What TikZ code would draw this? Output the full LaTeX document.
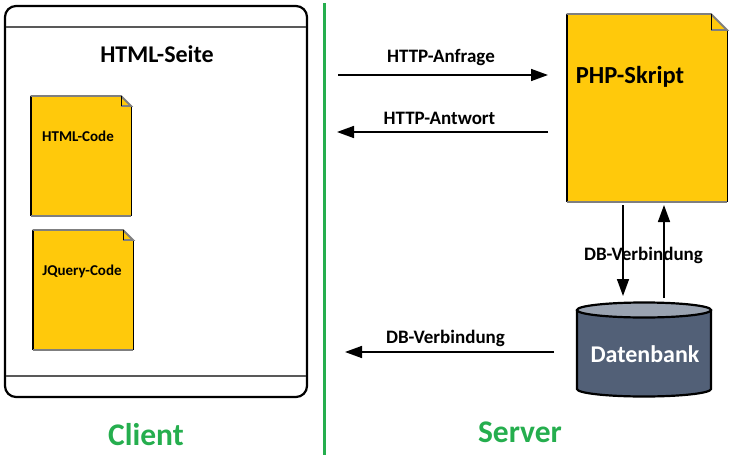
\documentclass[tikz,border=0pt]{standalone}
\usepackage{fontspec}
\setmainfont{Carlito}
\definecolor{docyellow}{HTML}{FFC90B}
\definecolor{edgegray}{HTML}{7F7F7F}
\definecolor{dbblue}{HTML}{526077}
\definecolor{dbtop}{HTML}{9AA3B1}
\definecolor{splitgreen}{HTML}{25AE4E}
\usetikzlibrary{arrows.meta}
\tikzset{
    msg/.style={line width=1.6pt,-{Triangle[length=17pt,width=12pt]}},
    msgtext/.style={font=\fontsize{19}{21}\bfseries\selectfont,inner sep=0pt},
    codetext/.style={font=\fontsize{15}{17}\bfseries\selectfont,inner sep=0pt},
    sidetext/.style={font=\fontsize{31.5}{34}\bfseries\selectfont,text=splitgreen,inner sep=0pt},
}
% left, top, right, bottom, fold
\newcommand{\docpage}[5]{
    \fill[docyellow] (#1,#2) -- (#3-#5,#2) -- (#3,#2+#5) -- (#3,#4) -- (#1,#4) -- cycle;
    \draw[line width=1.2pt] (#1,#2) -- (#1,#4);
    \draw[line width=0.8pt] (#3,#2+#5) -- (#3,#4);
    \draw[edgegray,line width=1.8pt] (#1-0.5,#2) -- (#3-#5,#2) -- (#3,#2+#5) -- (#3-#5,#2+#5);
    \draw[line width=0.8pt] (#3-#5,#2) -- (#3-#5,#2+#5);
    \draw[edgegray,line width=1.5pt] (#1-0.5,#4) -- (#3,#4);
}
\begin{document}
\begin{tikzpicture}[x=1pt,y=-1pt]
    \useasboundingbox (0,0) rectangle (734,455);
    % client
    \draw[line width=2.2pt,rounded corners=11pt] (5,6) rectangle (307,397);
    \draw[edgegray!70!black,line width=1.4pt] (6,27) -- (306,27);
    \draw[edgegray!70!black,line width=1.4pt] (6,376) -- (306,376);
    \node[font=\fontsize{24}{26}\bfseries\selectfont,inner sep=0pt] (seite) at (157,54) {HTML-Seite};
    \docpage{31}{96}{131}{216}{10}
    \node[codetext] (htmlcode) at (78,136) {HTML-Code};
    \docpage{33}{230}{133}{350}{10}
    \node[codetext] (jquerycode) at (82,271) {JQuery-Code};
    \node[sidetext] (client) at (146,435) {Client};
    % divider
    \draw[splitgreen,line width=3pt] (324,3) -- (324,455);
    \node[sidetext] (server) at (520,432) {Server};
    % server
    \docpage{567}{14}{727}{202}{16}
    \node[font=\fontsize{24.5}{27}\bfseries\selectfont,inner sep=0pt] (php) at (630,77) {PHP-Skript};
    \draw[fill=dbblue,line width=2.2pt] (577,310) -- (577,389) arc[start angle=180,end angle=0,x radius=67,y radius=7.5] -- (711,310);
    \draw[fill=dbtop,line width=2.2pt] (644,310) ellipse[x radius=67,y radius=7.5];
    \node[font=\fontsize{24}{26}\bfseries\selectfont,text=white,inner sep=0pt] (db) at (645,354) {Datenbank};
    % free ends of the arrows
    \coordinate (reqa) at (338,75);
    \coordinate (reqb) at (548,75);
    \coordinate (resa) at (548,132);
    \coordinate (resb) at (337,132);
    \coordinate (dbla) at (554,352);
    \coordinate (dblb) at (345,352);
    \coordinate (downa) at (623,205);
    \coordinate (downb) at (623,296);
    \coordinate (upa) at (664,298);
    \coordinate (upb) at (664,205);
    \draw[msg] (reqa) -- (reqb);
    \draw[msg] (resa) -- (resb);
    \draw[msg] (dbla) -- (dblb);
    \draw[msg] (downa) -- (downb);
    \draw[msg] (upa) -- (upb);
    \node[msgtext] (anfrage) at (441,58) {HTTP-Anfrage};
    \node[msgtext] (antwort) at (439.5,118) {HTTP-Antwort};
    \node[msgtext] (dbleft) at (445.5,338) {DB-Verbindung};
    \node[msgtext] (dbright) at (643.5,255) {DB-Verbindung};
\end{tikzpicture}
\end{document}
